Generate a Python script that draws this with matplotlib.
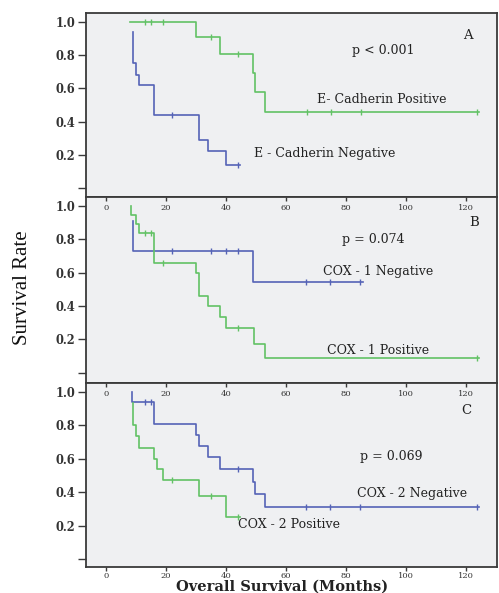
import numpy as np
import matplotlib
matplotlib.use("Agg")
import matplotlib.pyplot as plt

# ---------------- data ----------------
# Panel A: E-Cadherin
a_pos_t = [8, 30, 38, 49, 49.7, 52.8, 124.3]
a_pos_s = [1.0, 0.91, 0.81, 0.69, 0.58, 0.46, 0.46]
a_pos_c = [13, 15, 19, 35, 44, 67, 75, 85, 123.6]

a_neg_t = [8.8, 8.8, 9.9, 10.9, 16, 31, 34, 40.1, 44.7]
a_neg_s = [0.94, 0.75, 0.68, 0.62, 0.44, 0.29, 0.22, 0.14, 0.14]
a_neg_c = [22, 44]

# Panel B: COX-1
b_neg_t = [8.8, 8.8, 48.9, 85.7]
b_neg_s = [0.91, 0.73, 0.545, 0.545]
b_neg_c = [22, 35, 40, 44, 66.7, 74.7, 84.7]

b_pos_t = [8.3, 8.3, 9.9, 10.9, 16, 29.9, 31, 34, 37.9, 40.1, 49.4, 52.8, 124.3]
b_pos_s = [1.0, 0.946, 0.892, 0.84, 0.66, 0.595, 0.46, 0.397, 0.331, 0.265, 0.172, 0.086, 0.086]
b_pos_c = [13, 15, 19, 44, 123.6]

# Panel C: COX-2
c_neg_t = [8.7, 8.7, 16, 29.9, 31, 34, 37.9, 48.9, 49.7, 52.8, 124.3]
c_neg_s = [1.0, 0.94, 0.809, 0.741, 0.673, 0.607, 0.54, 0.462, 0.387, 0.311, 0.311]
c_neg_c = [13, 15, 44, 66.7, 74.7, 84.7, 123.6]

c_pos_t = [8.8, 8.8, 9.9, 10.9, 16, 17, 19, 31, 40.1, 44.7]
c_pos_s = [0.935, 0.80, 0.733, 0.665, 0.60, 0.536, 0.47, 0.375, 0.253, 0.253]
c_pos_c = [22, 35, 44]

x_ticks = [0, 20, 40, 60, 80, 100, 120]
y_ticks = [0.0, 0.2, 0.4, 0.6, 0.8, 1.0]
y_labels = ["", "0.2", "0.4", "0.6", "0.8", "1.0"]

GREEN = "#62c265"
BLUE = "#5563b6"
FACE = "#eff0f2"
EDGE = "#3a3a3a"
SERIF = "DejaVu Serif"

fig = plt.figure(figsize=(4.99, 5.93), dpi=100)
W, H = 499, 593
left = 86 / W
width = (497 - 86) / W
panels_px = [(13, 197), (197, 383), (383, 567)]
ylims = [(-0.054, 1.054), (-0.062, 1.054), (-0.048, 1.052)]


def km(ax, t, s, c, color):
    ax.step(t, s, where="post", color=color, lw=1.2, zorder=3)
    t_arr = np.asarray(t)
    s_arr = np.asarray(s)
    idx = np.searchsorted(t_arr, c, side="right") - 1
    ax.plot(c, s_arr[idx], ls="none", marker="|", ms=4, mew=1.0,
            color=color, zorder=4)


axes = []
for i, (top, bot) in enumerate(panels_px):
    ax = fig.add_axes([left, 1 - bot / H, width, (bot - top) / H])
    ax.set_facecolor(FACE)
    ax.set_xlim(-6.7, 130.3)
    ax.set_ylim(*ylims[i])
    for sp in ax.spines.values():
        sp.set_color(EDGE)
        sp.set_linewidth(1.3)
    ax.set_yticks(y_ticks)
    ax.set_yticklabels(y_labels, fontfamily=SERIF, fontweight="bold",
                       fontsize=8.3, color="#333333")
    ax.tick_params(axis="y", direction="out", length=6, width=1.0,
                   color=EDGE, pad=2)
    ax.set_xticks(x_ticks)
    axes.append(ax)

axA, axB, axC = axes

# Panel A
km(axA, a_pos_t, a_pos_s, a_pos_c, GREEN)
km(axA, a_neg_t, a_neg_s, a_neg_c, BLUE)
axA.tick_params(axis="x", bottom=False, labelbottom=False)

# Panel B
km(axB, b_neg_t, b_neg_s, b_neg_c, BLUE)
km(axB, b_pos_t, b_pos_s, b_pos_c, GREEN)
axB.tick_params(axis="x", bottom=False, labelbottom=False)

# Panel C
km(axC, c_neg_t, c_neg_s, c_neg_c, BLUE)
km(axC, c_pos_t, c_pos_s, c_pos_c, GREEN)
axC.tick_params(axis="x", direction="out", length=3, width=1.0,
                color=EDGE, pad=0.8, labelsize=6, labelcolor="#333333")
for lab in axC.get_xticklabels():
    lab.set_fontfamily(SERIF)

# top tick labels inside B and C
for ax in (axB, axC):
    sec = ax.secondary_xaxis("top")
    sec.set_xticks(x_ticks)
    sec.tick_params(direction="in", length=3, width=1.0, color=EDGE,
                    pad=-10.5, labelsize=6, labelcolor="#333333")
    for lab in sec.get_xticklabels():
        lab.set_fontfamily(SERIF)
    sec.spines["top"].set_visible(False)

txt = dict(fontfamily=SERIF, fontsize=9, color="#222222",
           ha="center", va="center")
axA.text(120.7, 0.92, "A", **dict(txt, fontsize=9.5))
axA.text(92.3, 0.83, "p < 0.001", **txt)
axA.text(92, 0.536, "E- Cadherin Positive", **txt)
axA.text(72.7, 0.21, "E - Cadherin Negative", **txt)

axB.text(122.7, 0.898, "B", **dict(txt, fontsize=9.5))
axB.text(89, 0.796, "p = 0.074", **txt)
axB.text(90.7, 0.606, "COX - 1 Negative", **txt)
axB.text(90.7, 0.132, "COX - 1 Positive", **txt)

axC.text(120, 0.886, "C", **dict(txt, fontsize=9.5))
axC.text(95.2, 0.615, "p = 0.069", **txt)
axC.text(101.9, 0.389, "COX - 2 Negative", **txt)
axC.text(61, 0.209, "COX - 2 Positive", **txt)

fig.text(23 / W, 1 - 288 / H, "Survival Rate", rotation=90,
         fontfamily="Liberation Serif", fontsize=15, color="#111111",
         ha="center", va="center")
fig.text(282 / W, 1 - 587 / H, "Overall Survival (Months)",
         fontfamily=SERIF, fontweight="bold", fontsize=10.5,
         color="#222222", ha="center", va="center")

fig.savefig("out.png", dpi=100, facecolor="white")
